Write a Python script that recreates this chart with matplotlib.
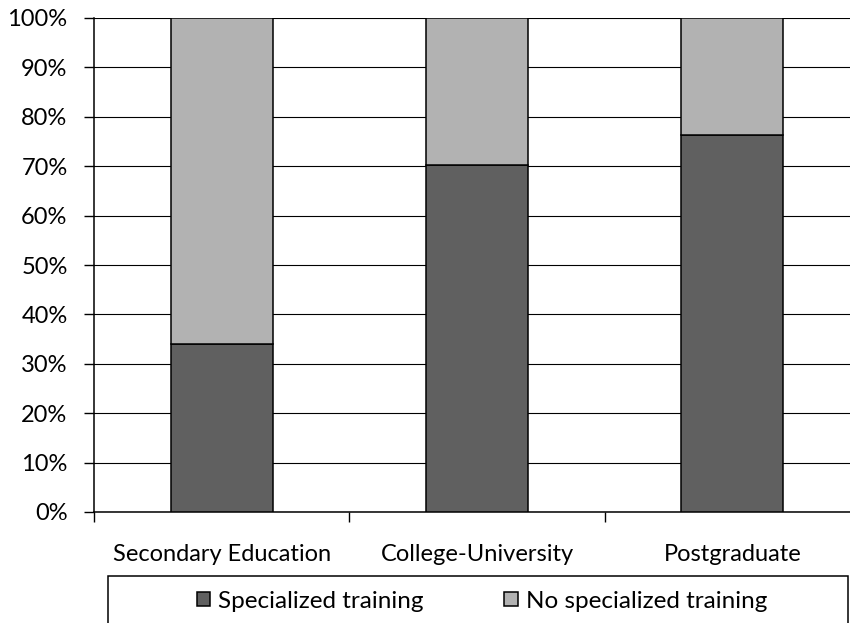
import matplotlib
matplotlib.use("Agg")
from matplotlib import pyplot as plt
from matplotlib.patches import Rectangle
from matplotlib.ticker import FixedLocator, PercentFormatter
import numpy as np

categories = ["Secondary Education", "College-University", "Postgraduate"]
specialized = [34.1, 70.2, 76.4]
no_specialized = [65.9, 29.8, 23.6]
series_labels = ["Specialized training", "No specialized training"]

plt.rcParams.update({
    "font.family": ["Lato", "DejaVu Sans"],
    "font.size": 17,
})

dark = "#606060"
light = "#b2b2b2"

fig = plt.figure(figsize=(8.5, 6.23), dpi=100)
ax = fig.add_axes([94 / 850, 1 - 512 / 623, (860 - 94) / 850, (512 - 18) / 623])

x = np.arange(len(categories))
w = 0.40
b1 = ax.bar(x, specialized, w, color=dark, edgecolor="black", linewidth=1.1,
            label=series_labels[0], zorder=3)
b2 = ax.bar(x, no_specialized, w, bottom=specialized, color=light, edgecolor="black",
            linewidth=1.1, label=series_labels[1], zorder=3)

ax.set_xlim(-0.5, 2.5)
ax.set_ylim(0, 100)
ax.set_yticks(np.arange(0, 101, 10))
ax.yaxis.set_major_formatter(PercentFormatter(decimals=0))
ax.grid(axis="y", color="black", linewidth=0.8, zorder=0)
ax.set_axisbelow(True)

# category labels on the centres, tick marks on the boundaries
ax.set_xticks(x)
ax.set_xticklabels(categories)
ax.xaxis.set_minor_locator(FixedLocator([-0.5, 0.5, 1.5, 2.5]))
ax.tick_params(axis="x", which="major", length=0, pad=23)
ax.tick_params(axis="x", which="minor", length=7, width=1, color="black")
ax.tick_params(axis="y", length=7, width=1, pad=12)

for s in ["top", "right"]:
    ax.spines[s].set_visible(False)
ax.spines["left"].set_linewidth(1.1)
ax.spines["bottom"].set_linewidth(1.1)

# legend frame running off the bottom edge
fig.add_artist(Rectangle((108 / 850, -0.05), (848 - 108) / 850, 0.05 + (1 - 576 / 623),
                         transform=fig.transFigure, facecolor="white",
                         edgecolor="black", linewidth=1.1, clip_on=False))
fig.legend(handles=[b1, b2], labels=series_labels, loc="center",
           bbox_to_anchor=(482 / 850, 1 - 601 / 623), ncol=2, frameon=False,
           handlelength=0.55, handleheight=0.55, handletextpad=0.35,
           columnspacing=3.3, fontsize=17.5)

plt.savefig("out.png", dpi=100)
plt.close()
